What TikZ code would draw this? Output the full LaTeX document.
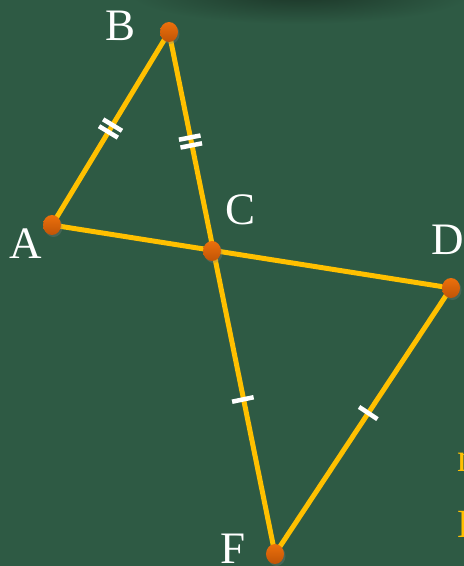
\documentclass[tikz,border=0pt]{standalone}
\usepackage{fontspec}
\setmainfont{Liberation Serif}
\usepackage{tikz}
\usetikzlibrary{calc,shadows,shapes.geometric}
\definecolor{board}   {HTML}{2E5A44}
\definecolor{boarddk} {HTML}{1C3628}
\definecolor{chalkyel}{HTML}{FFC000}
\definecolor{dotorg}  {HTML}{EC700C}
\definecolor{dotdk}   {HTML}{C05406}
\tikzset{
  segline/.style ={draw=chalkyel, line width=5pt},
  tickmark/.style={draw=white, line width=4.5pt},
  ptdot/.style   ={ellipse, minimum width=18pt, minimum height=20pt, inner sep=0pt,
                   top color=dotorg, bottom color=dotdk,
                   drop shadow={shadow xshift=1.5pt, shadow yshift=-2pt, opacity=0.3}},
  ptlabel/.style ={text=white, font=\fontsize{45}{45}\selectfont, inner sep=0pt},
  sidelabel/.style={text=chalkyel, font=\fontsize{40}{40}\selectfont, inner sep=0pt, anchor=west},
}
\begin{document}
\begin{tikzpicture}[x=1pt,y=-1pt]
    % ----- board -----
    \fill[board] (0,0) rectangle (464,566);
    \useasboundingbox (0,0) rectangle (464,566);
    \clip (0,0) rectangle (464,566);
    \shade[inner color=boarddk, outer color=board] (300,-6) ellipse (170pt and 30pt);

    % ----- points -----
    \coordinate (A) at (52,225);
    \coordinate (B) at (169,32);
    \coordinate (C) at (212,251);
    \coordinate (D) at (451,288);
    \coordinate (F) at (275,554);

    % ----- segments -----
    \draw[segline] (A) -- (B) -- (F);
    \draw[segline] (A) -- (D) -- (F);

    % ----- equal marks -----
    \coordinate (mAB) at ($(A)!0.5!(B)$);
    \coordinate (mBC) at ($(B)!0.5!(C)$);
    \coordinate (mCF) at ($(C)!0.49!(F)$);
    \coordinate (mDF) at ($(D)!0.47!(F)$);
    \foreach \m/\p/\q in {mAB/A/B, mBC/B/C} {
      \foreach \s in {-4,4} {
        \coordinate (t) at ($(\m)!\s pt!(\q)$);
        \draw[tickmark] ($(t)!11pt!90:(\q)$) -- ($(t)!11pt!-90:(\q)$);
      }
    }
    \foreach \m/\q in {mCF/F, mDF/F} {
      \draw[tickmark] ($(\m)!11pt!90:(\q)$) -- ($(\m)!11pt!-90:(\q)$);
    }

    % ----- dots -----
    \foreach \p in {A,B,C,D,F} {
      \node[ptdot] (dot\p) at (\p) {};
    }

    % ----- labels -----
    \node[ptlabel] (labB) at (121,26) {B};
    \node[ptlabel] (labC) at (241,210) {C};
    \node[ptlabel] (labA) at (26,244) {A};
    \node[ptlabel] (labD) at (448,240) {D};
    \node[ptlabel] (labF) at (233,549) {F};

    % ----- cut-off text at right edge -----
    \node[sidelabel] (side1) at (457,462) {n};
    \node[sidelabel] (side2) at (457,524) {B};
  \end{tikzpicture}
\end{document}
